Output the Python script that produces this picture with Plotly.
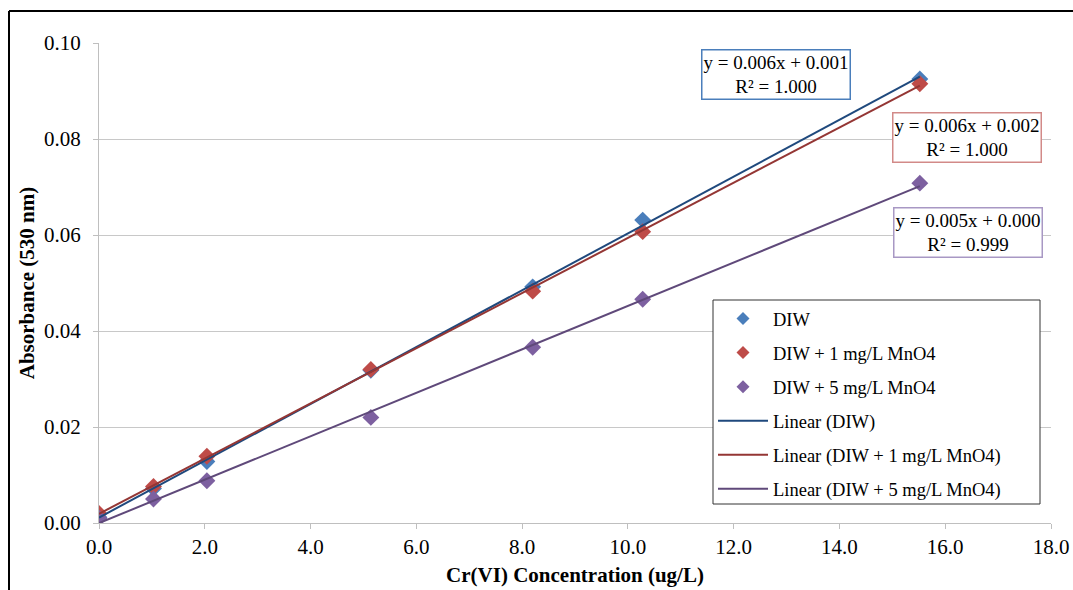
import numpy as np
import plotly.graph_objects as go

# ---- data ----
conc = [0.0, 1.03, 2.04, 5.14, 8.20, 10.28, 15.52]
diw = [0.0012, 0.0072, 0.0128, 0.0318, 0.0492, 0.0631, 0.0925]
diw_1mg = [0.0020, 0.0076, 0.0139, 0.0320, 0.0483, 0.0607, 0.0915]
diw_5mg = [0.0010, 0.0050, 0.0088, 0.0220, 0.0366, 0.0466, 0.0708]

series_names = ["DIW", "DIW + 1 mg/L MnO4", "DIW + 5 mg/L MnO4"]
eq_labels = ["y = 0.006x + 0.001<br>R² = 1.000",
             "y = 0.006x + 0.002<br>R² = 1.000",
             "y = 0.005x + 0.000<br>R² = 0.999"]
x_ticks = [0, 2, 4, 6, 8, 10, 12, 14, 16, 18]
y_ticks = [0.0, 0.02, 0.04, 0.06, 0.08, 0.10]

marker_colors = ["#4A7EBB", "#BE4B48", "#7D60A0"]
line_colors = ["#1F497D", "#943634", "#5F497A"]
box_colors = ["#4A7EBB", "#D28A88", "#A898C4"]
box_pos = [(12.80, 0.0934), (16.41, 0.0803), (16.44, 0.0605)]

FONT = "Liberation Serif"
all_y = [diw, diw_1mg, diw_5mg]

fig = go.Figure()
# legend-only entries (smaller diamonds, as in the reference legend)
for i, name in enumerate(series_names):
    fig.add_trace(go.Scatter(
        x=[None], y=[None], mode="markers", name=name, legendgroup=f"m{i}",
        marker=dict(symbol="diamond", size=10, color=marker_colors[i]),
    ))
for i, (name, ys) in enumerate(zip(series_names, all_y)):
    fig.add_trace(go.Scatter(
        x=conc, y=ys, mode="markers", name=name, legendgroup=f"m{i}",
        showlegend=False,
        marker=dict(symbol="diamond", size=13, color=marker_colors[i],
                    line=dict(width=0)),
    ))
for i, (name, ys) in enumerate(zip(series_names, all_y)):
    slope, intercept = np.polyfit(conc, ys, 1)
    xs = [conc[0], conc[-1]]
    fig.add_trace(go.Scatter(
        x=xs, y=[slope * v + intercept for v in xs], mode="lines",
        name=f"Linear ({name})", legendgroup=f"l{i}",
        line=dict(color=line_colors[i], width=2),
    ))

for i, txt in enumerate(eq_labels):
    bx, by = box_pos[i]
    fig.add_annotation(x=bx, y=by, xref="x", yref="y", text=txt,
                       showarrow=False, align="center",
                       font=dict(family=FONT, size=19, color="black"),
                       bgcolor="white", bordercolor=box_colors[i],
                       borderwidth=1.5, borderpad=1)

# outer frame (partially cropped in the reference)
W, H = 1073, 590
L, R, T, B = 99, 22, 43, 67
pw, ph = W - L - R, H - T - B
def px2paper(px, py):
    return (px - L) / pw, (H - B - py) / ph
x0, y0 = px2paper(9, 11)
x1, y1 = px2paper(1073, 590)
fig.add_shape(type="line", xref="paper", yref="paper", x0=x0, y0=y0, x1=x1, y1=y0,
              line=dict(color="black", width=2))
fig.add_shape(type="line", xref="paper", yref="paper", x0=x0, y0=y0, x1=x0, y1=y1,
              line=dict(color="black", width=2))
# legend frame (wider than the entries, as in the reference)
lx0, ly0 = px2paper(713, 300)
lx1, ly1 = px2paper(1040, 504)
fig.add_shape(type="rect", xref="paper", yref="paper", x0=lx0, y0=ly0, x1=lx1, y1=ly1,
              line=dict(color="#333333", width=1), fillcolor="white", layer="above")

fig.update_layout(
    width=W, height=H,
    margin=dict(l=L, r=R, t=T, b=B, autoexpand=False),
    paper_bgcolor="white", plot_bgcolor="white",
    font=dict(family=FONT, size=21, color="black"),
    showlegend=True,
    legend=dict(x=lx0, y=ly0, xanchor="left", yanchor="top",
                bgcolor="rgba(0,0,0,0)", borderwidth=0,
                font=dict(family=FONT, size=18.5, color="black"),
                tracegroupgap=7, itemwidth=50),
    xaxis=dict(range=[0, 18], tickvals=x_ticks,
               ticktext=[f"{v:.1f}" for v in x_ticks],
               showgrid=False, zeroline=False, automargin=False,
               showline=True, linecolor="#BFBFBF", linewidth=1,
               ticks="outside", ticklen=5, tickcolor="#BFBFBF",
               tickfont=dict(family=FONT, size=21),
               title=dict(text="<b>Cr(VI) Concentration (ug/L)</b>",
                          font=dict(family=FONT, size=21), standoff=9)),
    yaxis=dict(range=[0, 0.10], tickvals=y_ticks,
               ticktext=[f"{v:.2f}" for v in y_ticks],
               showgrid=True, gridcolor="#C8C8C8", gridwidth=1,
               zeroline=False, automargin=False,
               showline=True, linecolor="#BFBFBF", linewidth=1,
               ticks="outside", ticklen=5, tickcolor="#BFBFBF",
               ticklabelstandoff=8,
               tickfont=dict(family=FONT, size=21),
               title=dict(text="<b>Absorbance (530 nm)</b>",
                          font=dict(family=FONT, size=21), standoff=3)),
)

fig.write_html("out.html")
